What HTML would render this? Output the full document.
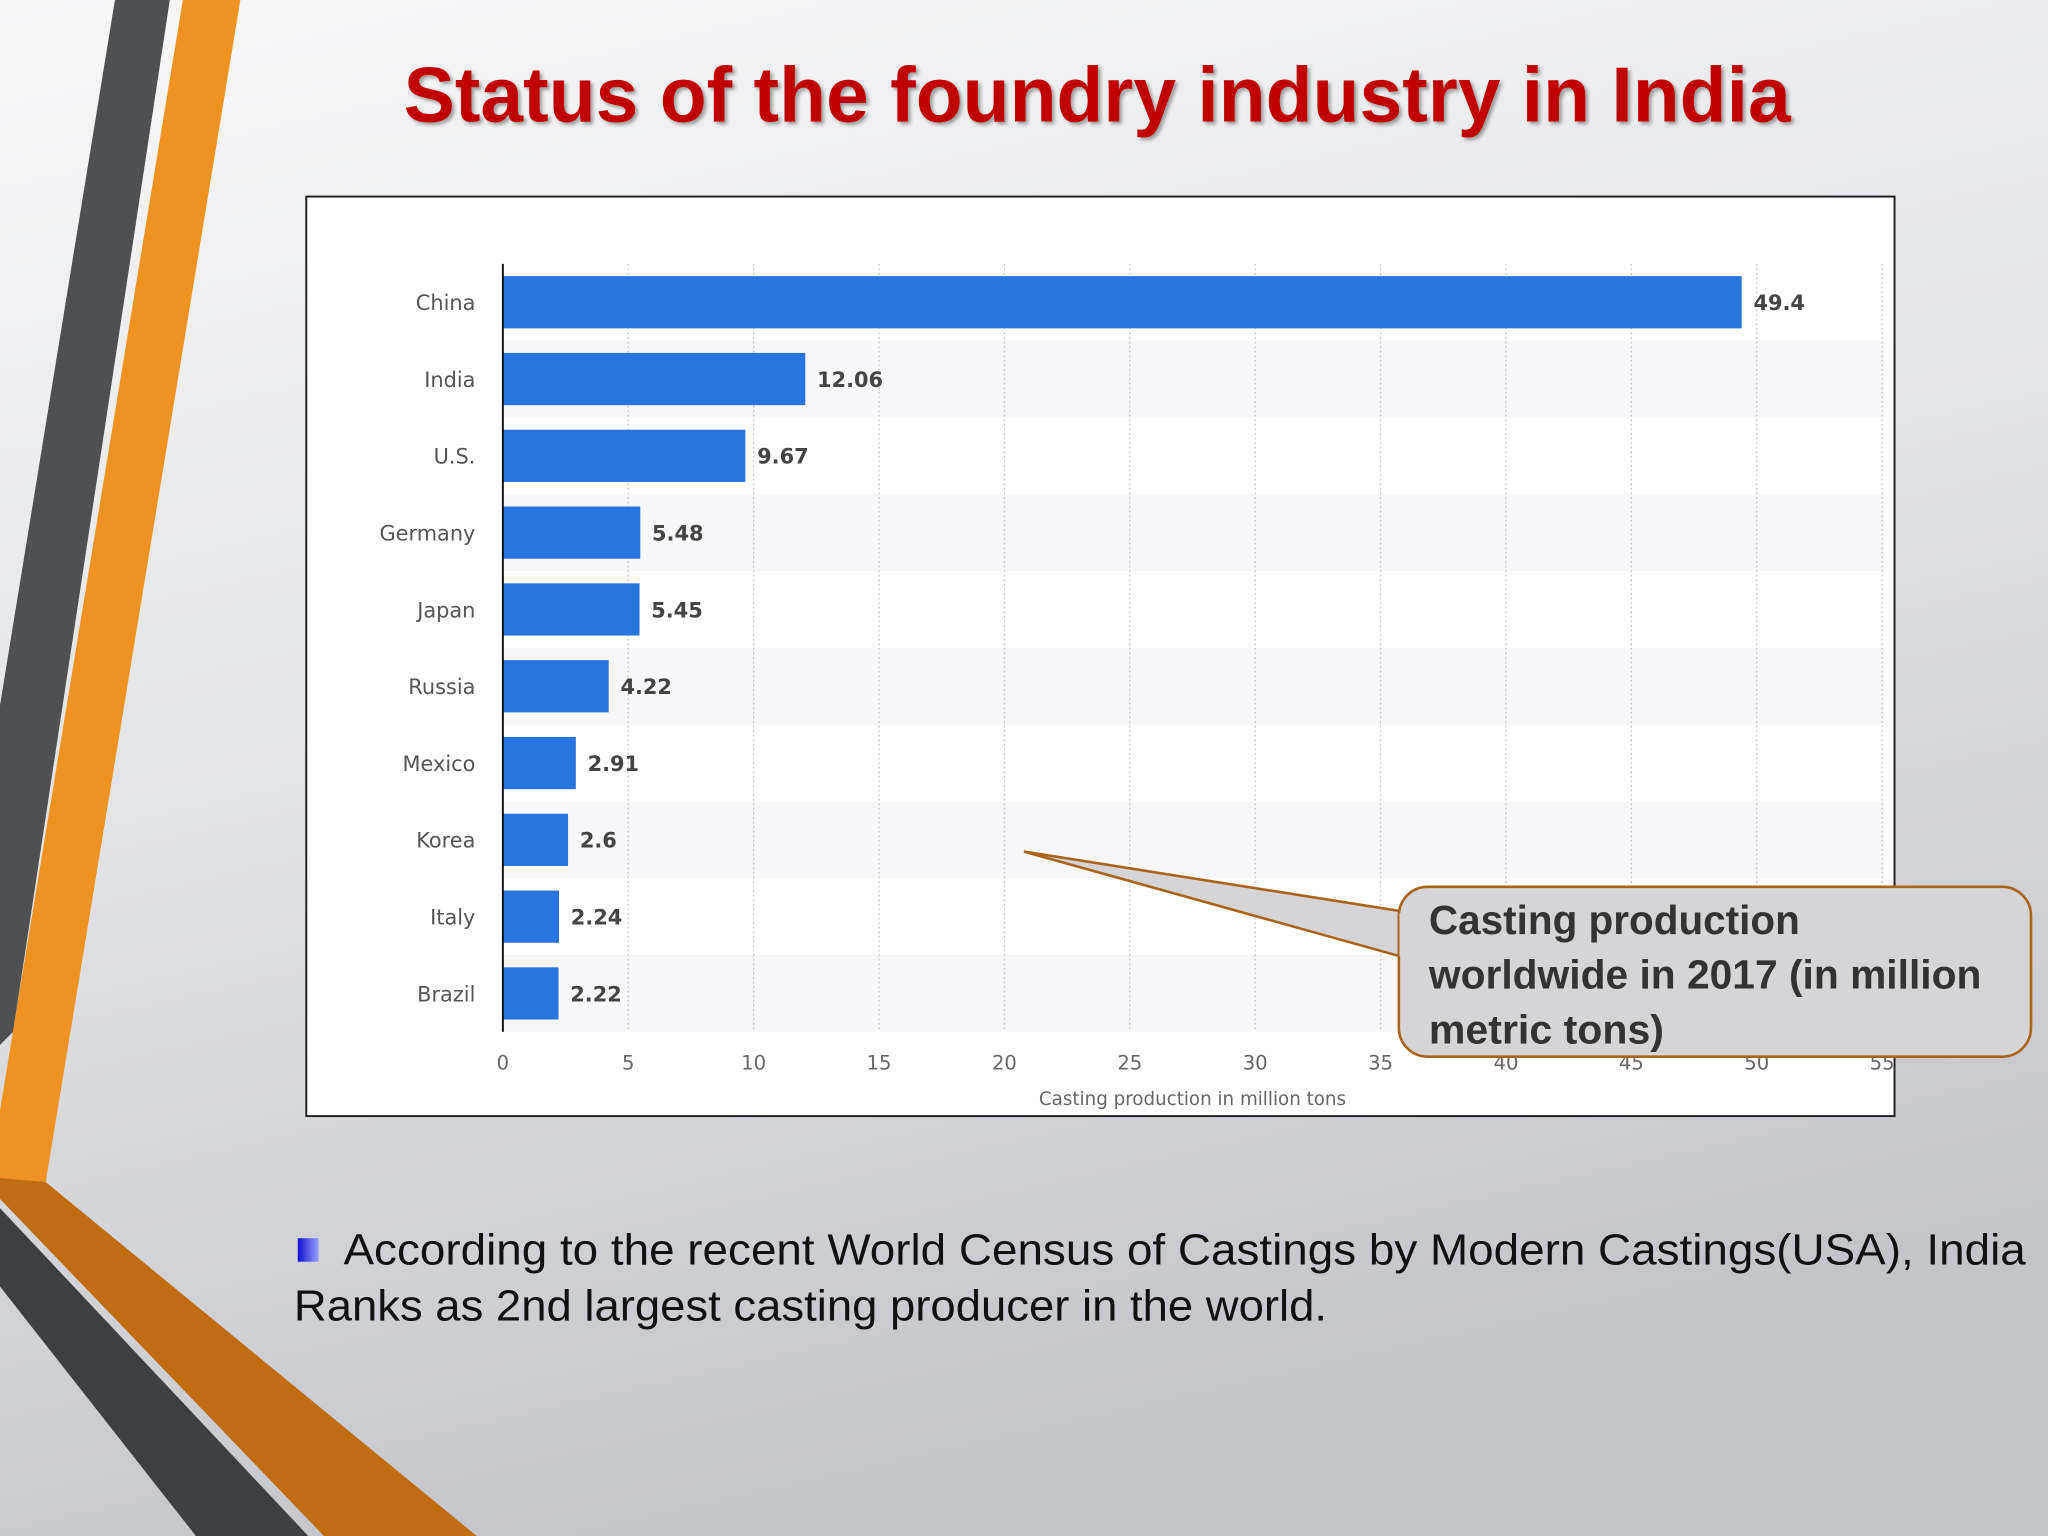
<!DOCTYPE html>
<html><head><meta charset="utf-8"><style>
html,body{margin:0;padding:0;width:2048px;height:1536px;overflow:hidden;background:#e6e7ea}
svg{display:block}
</style></head><body>
<svg id="root" width="2048" height="1536" viewBox="0 0 1568 1176" preserveAspectRatio="none" xmlns="http://www.w3.org/2000/svg">
<defs>
<linearGradient id="bg" x1="0" y1="0" x2="0.3" y2="1">
<stop offset="0" stop-color="#f7f7f8"/><stop offset="0.5" stop-color="#e3e4e7"/><stop offset="1" stop-color="#c4c5ca"/></linearGradient>
<linearGradient id="bul" x1="0" y1="0" x2="1" y2="0"><stop offset="0" stop-color="#1010d0"/><stop offset="1" stop-color="#9aa0ff"/></linearGradient>
<filter id="sh"><feDropShadow dx="2" dy="2" stdDeviation="1.5" flood-color="#000" flood-opacity="0.35"/></filter>
</defs>
<rect x="0" y="0" width="1568" height="1176" fill="url(#bg)"/>
<g>
<polygon points="88,0 130,0 10,790 0,800 0,540" fill="#4f5052"/>
<polygon points="140,0 184,0 35,905 0,905 0,850" fill="#ee9322"/>
<polygon points="0,902 35,905 365,1176 248,1176 0,918" fill="#c06c14"/>
<polygon points="0,925 236,1176 150,1176 0,985" fill="#3e3f41"/>
</g>
<text x="840" y="93" text-anchor="middle" font-family="Liberation Sans, sans-serif" font-weight="bold" font-size="60" fill="#c00000" filter="url(#sh)" textLength="1062" lengthAdjust="spacingAndGlyphs">Status of the foundry industry in India</text>
<rect x="234.5" y="150.5" width="1216" height="704" fill="#ffffff" stroke="#222" stroke-width="1.5"/>
<g id="chart"></g>
<g>
<polygon points="784,652 1075,698 1075,733" fill="#d5d5d7" stroke="#a8641c" stroke-width="2"/>
<rect x="1071" y="679" width="484" height="130" rx="22" fill="#d5d5d7" stroke="#a8641c" stroke-width="2"/>
<line x1="1073" y1="699" x2="1073" y2="732" stroke="#d5d5d7" stroke-width="3"/>
<g font-family="Liberation Sans, sans-serif" font-weight="bold" font-size="31" fill="#333">
<text x="1094" y="715" textLength="284" lengthAdjust="spacingAndGlyphs">Casting production</text>
<text x="1094" y="757" textLength="423" lengthAdjust="spacingAndGlyphs">worldwide in 2017 (in million</text>
<text x="1094" y="799" textLength="180" lengthAdjust="spacingAndGlyphs">metric tons)</text>
</g></g>
<rect x="228" y="948" width="16" height="18" fill="url(#bul)"/>
<g font-family="Liberation Sans, sans-serif" font-size="33" fill="#111">
<text x="263" y="968" textLength="1288" lengthAdjust="spacingAndGlyphs">According to the recent World Census of Castings by Modern Castings(USA), India</text>
<text x="225" y="1011" textLength="791" lengthAdjust="spacingAndGlyphs">Ranks as 2nd largest casting producer in the world.</text>
</g>
</svg>
<script>
const categories=["China","India","U.S.","Germany","Japan","Russia","Mexico","Korea","Italy","Brazil"];
const values=[49.4,12.06,9.67,5.48,5.45,4.22,2.91,2.6,2.24,2.22];
const valueLabels=["49.4","12.06","9.67","5.48","5.45","4.22","2.91","2.6","2.24","2.22"];
const ticks=[0,5,10,15,20,25,30,35,40,45,50,55];
const NS="http://www.w3.org/2000/svg";
const g=document.getElementById('chart');
const x0=385,pxPer=19.2,yTop=202,yBot=790;
const step=(yBot-yTop)/categories.length;
const xs=v=>x0+v*pxPer;
const yc=i=>yTop+step*(i+0.5);
function mk(t,a){const e=document.createElementNS(NS,t);for(const k in a)e.setAttribute(k,a[k]);g.appendChild(e);return e;}
categories.forEach((c,i)=>{if(i%2===1){const b=mk('rect',{x:x0,y:yTop+step*i,width:1058,height:step,fill:'#f8f8fa'});

}});
ticks.forEach(t=>{if(t>0){const l=mk('line',{x1:xs(t),x2:xs(t),y1:yTop,y2:yBot,stroke:'#c8c8c8','stroke-width':1,'stroke-dasharray':'1.5,2'});

}
const tx=mk('text',{x:xs(t),y:819,'text-anchor':'middle','font-family':'DejaVu Sans, sans-serif','font-size':15,fill:'#666'});


tx.textContent=t;});
categories.forEach((c,i)=>{
const r=mk('rect',{x:x0,y:yc(i)-20,width:xs(values[i])-x0,height:40,fill:'#2876dd'});


const l=mk('text',{x:364,y:yc(i)+6,'text-anchor':'end','font-family':'DejaVu Sans, sans-serif','font-size':16,fill:'#555'});


l.textContent=c;
const v=mk('text',{x:xs(values[i])+9,y:yc(i)+6,'font-family':'DejaVu Sans, sans-serif','font-size':16,'font-weight':'bold',fill:'#444'});


v.textContent=valueLabels[i];});
const ax=mk('line',{x1:x0,x2:x0,y1:yTop,y2:yBot,stroke:'#111','stroke-width':1.5});


const at=mk('text',{x:913,y:846,'text-anchor':'middle','font-family':'DejaVu Sans, sans-serif','font-size':14,fill:'#666'});


at.textContent='Casting production in million tons';
</script>
</body></html>
